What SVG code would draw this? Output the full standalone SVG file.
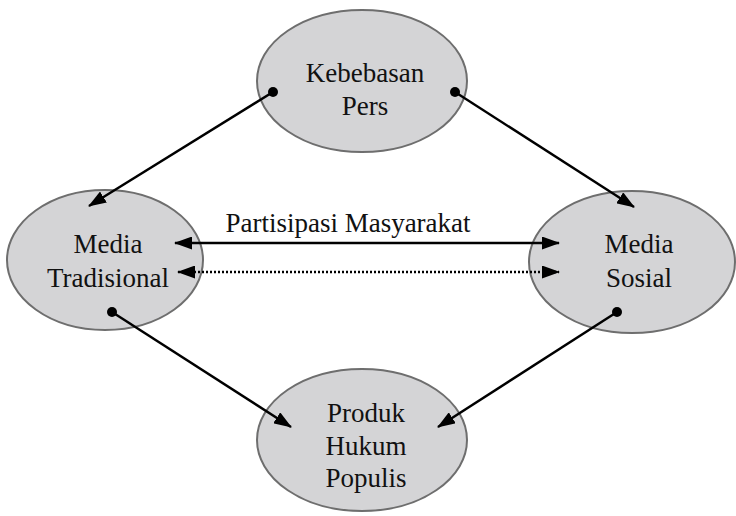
<svg xmlns="http://www.w3.org/2000/svg" width="736" height="516" viewBox="0 0 736 516">
<defs>
<style>
.node ellipse{fill:#d4d4d6;stroke:#6e6e6e;stroke-width:2}
.node text{font-family:"Liberation Serif","DejaVu Serif",serif;font-size:27px;fill:#111;text-anchor:middle}
.lbl{font-family:"Liberation Serif","DejaVu Serif",serif;font-size:27px;fill:#111;text-anchor:middle}
.c{stroke:#000;stroke-width:2.4;fill:none}
.dot{fill:#000}
</style>
<marker id="ah" viewBox="0 0 18 13" refX="17" refY="6.5" markerWidth="18" markerHeight="13" markerUnits="userSpaceOnUse" orient="auto-start-reverse">
<path d="M0,0 L18,6.5 L0,13 z" fill="#000"/>
</marker>
</defs>
<g id="n-kebebasan" class="node">
<ellipse cx="362" cy="81" rx="105" ry="71"/>
<text x="365" y="82">Kebebasan</text>
<text x="365" y="115">Pers</text>
</g>
<g id="n-tradisional" class="node">
<ellipse cx="105" cy="260" rx="98" ry="70"/>
<text x="108" y="253">Media</text>
<text x="108" y="287">Tradisional</text>
</g>
<g id="n-sosial" class="node">
<ellipse cx="632" cy="262" rx="103" ry="71"/>
<text x="639" y="253">Media</text>
<text x="639" y="287">Sosial</text>
</g>
<g id="n-produk" class="node">
<ellipse cx="362" cy="440" rx="105" ry="71"/>
<text x="366" y="422">Produk</text>
<text x="366" y="455">Hukum</text>
<text x="366" y="487">Populis</text>
</g>
<g id="connectors">
<line class="c" x1="273" y1="92" x2="89" y2="206" marker-end="url(#ah)"/>
<circle class="dot" cx="273" cy="92" r="5"/>
<line class="c" x1="455" y1="92" x2="634" y2="207" marker-end="url(#ah)"/>
<circle class="dot" cx="455" cy="92" r="5"/>
<line class="c" x1="175" y1="243" x2="559" y2="243" marker-start="url(#ah)" marker-end="url(#ah)"/>
<line class="c" x1="178" y1="272" x2="559" y2="272" stroke-dasharray="2,2" marker-start="url(#ah)" marker-end="url(#ah)"/>
<line class="c" x1="112" y1="312" x2="291" y2="427" marker-end="url(#ah)"/>
<circle class="dot" cx="112" cy="312" r="5"/>
<line class="c" x1="617" y1="312" x2="438" y2="427" marker-end="url(#ah)"/>
<circle class="dot" cx="617" cy="312" r="5"/>
<text class="lbl" x="348" y="232">Partisipasi Masyarakat</text>
</g>
</svg>
